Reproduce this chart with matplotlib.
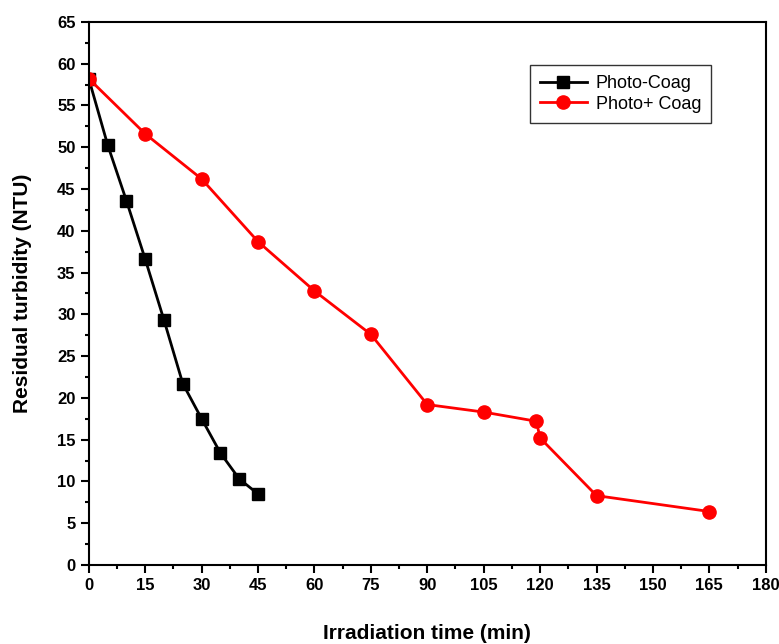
import matplotlib
matplotlib.use("Agg")
import matplotlib.pyplot as plt
from matplotlib.ticker import MultipleLocator

plt.rcParams['font.family'] = ['Liberation Sans', 'DejaVu Sans']

# Photo-Coag (black squares)
time_coag = [0, 5, 10, 15, 20, 25, 30, 35, 40, 45]
ntu_coag = [58.2, 50.3, 43.6, 36.6, 29.3, 21.7, 17.5, 13.4, 10.3, 8.5]

# Photo+ Coag (red circles)
time_plus = [0, 15, 30, 45, 60, 75, 90, 105, 119, 120, 135, 165]
ntu_plus = [58.2, 51.6, 46.2, 38.7, 32.8, 27.6, 19.2, 18.3, 17.2, 15.2, 8.3, 6.4]

fig = plt.figure(figsize=(7.79, 6.44), dpi=100)
ax = fig.add_axes([0.114, 0.1227, 0.869, 0.8433])

ax.plot(time_coag, ntu_coag, color='black', marker='s', markersize=8, linewidth=2, label='Photo-Coag')
ax.plot(time_plus, ntu_plus, color='red', marker='o', markersize=9.5, linewidth=2, label='Photo+ Coag')

ax.set_xlim(0, 180)
ax.set_ylim(0, 65)
ax.xaxis.set_major_locator(MultipleLocator(15))
ax.xaxis.set_minor_locator(MultipleLocator(7.5))
ax.yaxis.set_major_locator(MultipleLocator(5))
ax.yaxis.set_minor_locator(MultipleLocator(2.5))
ax.tick_params(which='major', direction='out', length=6, width=1.5, labelsize=12)
ax.tick_params(which='minor', direction='out', length=3, width=1.5)
for lab in ax.get_xticklabels() + ax.get_yticklabels():
    lab.set_fontweight('bold')
for sp in ax.spines.values():
    sp.set_linewidth(1.5)

ax.set_xlabel('Irradiation time (min)', fontsize=15, fontweight='bold', labelpad=22)
ax.set_ylabel('Residual turbidity (NTU)', fontsize=15, fontweight='bold', labelpad=18)

leg = ax.legend(loc='upper right', bbox_to_anchor=(0.933, 0.937), fontsize=13, frameon=True,
                fancybox=False, edgecolor='black', handlelength=2.6, borderpad=0.55,
                labelspacing=0.2, handletextpad=0.5)
leg.get_frame().set_linewidth(1)

fig.savefig('out.png', dpi=100)
